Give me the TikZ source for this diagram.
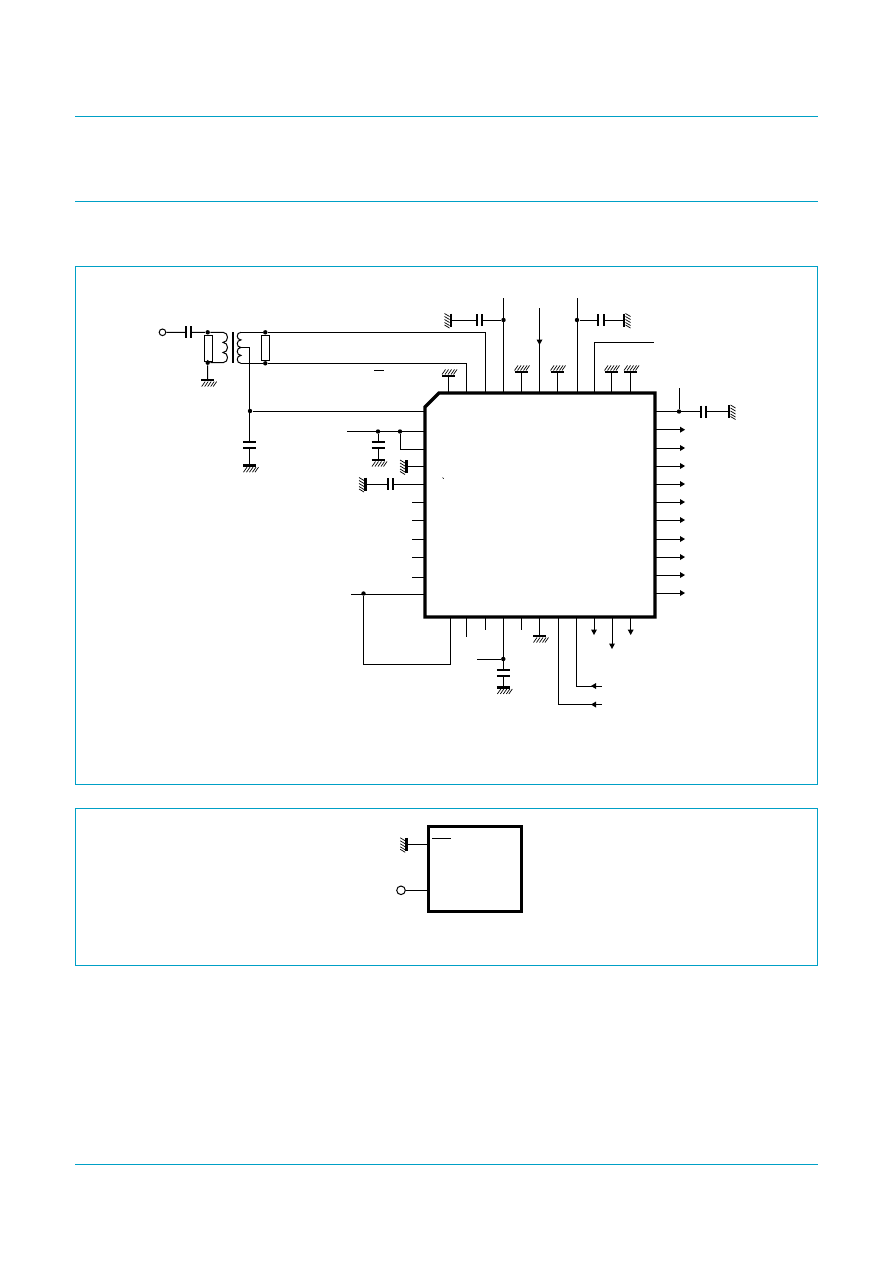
\documentclass[tikz,border=0pt]{standalone}
\definecolor{rulecyan}{RGB}{0,160,198}
\tikzset{
  wire/.style={line width=1pt,black},
  frame/.style={line width=0.9pt,rulecyan},
  chip/.style={line width=3.2pt,black,miter limit=10},
  plate/.style={line width=2.2pt,black},
  bar/.style={line width=2.8pt,black},
  hatch/.style={line width=0.7pt,black},
  jn/.style={circle,fill=black,inner sep=0pt,minimum size=4.4pt},
  res/.style={draw,line width=1pt,fill=white,minimum width=8pt,inner sep=0pt,outer sep=0pt},
  term/.style={draw,line width=1pt,circle,inner sep=0pt,fill=white},
}
% grounds: bar centred on (x,y); hatch on the side named
\newcommand{\gndS}[2]{\draw[bar] (#1-6.5,#2)--(#1+6.5,#2);
  \foreach \k in {-6,-3,0,3,5.5}{\draw[hatch] (#1+\k,#2+6.5)--(#1+\k+3.5,#2+1.5);}}
\newcommand{\gndN}[2]{\draw[bar] (#1-6.5,#2)--(#1+6.5,#2);
  \foreach \k in {-6.5,-3.5,-0.5,2.5,5}{\draw[hatch] (#1+\k,#2-1.5)--(#1+\k+3.5,#2-6.5);}}
\newcommand{\gndW}[2]{\draw[bar] (#1,#2-6.5)--(#1,#2+6.5);
  \foreach \k in {-6.5,-3.5,-0.5,2.5,5}{\draw[hatch] (#1-6.5,#2+\k)--(#1-1.5,#2+\k+3);}}
\newcommand{\gndE}[2]{\draw[bar] (#1,#2-6.5)--(#1,#2+6.5);
  \foreach \k in {-6.5,-3.5,-0.5,2.5,5}{\draw[hatch] (#1+1.5,#2+\k)--(#1+6.5,#2+\k+3);}}
% capacitors: gap centred on (x,y)
\newcommand{\capH}[2]{\fill[white] (#1-2.2,#2-1)rectangle(#1+2.2,#2+1);
  \draw[plate] (#1-2.8,#2-6)--(#1-2.8,#2+6) (#1+2.8,#2-6)--(#1+2.8,#2+6);}
\newcommand{\capV}[2]{\fill[white] (#1-1,#2-2.2)rectangle(#1+1,#2+2.2);
  \draw[plate] (#1-6.5,#2-2.8)--(#1+6.5,#2-2.8) (#1-6.5,#2+2.8)--(#1+6.5,#2+2.8);}
% arrowheads: tip at (x,y)
\newcommand{\tipR}[2]{\fill (#1,#2)--(#1-5,#2-3)--(#1-5,#2+3)--cycle;}
\newcommand{\tipL}[2]{\fill (#1,#2)--(#1+5,#2-3)--(#1+5,#2+3)--cycle;}
\newcommand{\tipD}[2]{\fill (#1,#2)--(#1-3,#2-5.5)--(#1+3,#2-5.5)--cycle;}
\begin{document}
\begin{tikzpicture}[x=1pt,y=-1pt,wire]
\useasboundingbox (0,0) rectangle (892,1263);
\fill[white] (0,0) rectangle (892,1263);
% page rules and frames
\draw[frame] (75,116.5)--(818,116.5) (75,201.5)--(818,201.5) (75,1164)--(818,1164);
\draw[frame] (75.5,266.5) rectangle (817.5,784);
\draw[frame] (75.5,808) rectangle (817.5,965);

% ----- input network
\node[term,minimum size=6.6pt] (rf) at (162.5,332.3) {};
\node[res,minimum height=26pt] (r1) at (208,348) {};
\node[res,minimum height=25pt] (r2) at (265.2,348.3) {};
\node[jn] (j1) at (207.7,332.3) {};
\node[jn] (j2) at (207.7,362.7) {};
\node[jn] (j3) at (265.3,332.3) {};
\node[jn] (j4) at (265.3,363.3) {};
\node[jn] (j5) at (250,411) {};
\coordinate (g1) at (207.7,380);
\coordinate (prit) at (223,332.3);
\coordinate (prib) at (223,362.7);
\coordinate (sect) at (241,332.3);
\coordinate (secb) at (241,363.3);
\coordinate (tap) at (241,347.5);
\coordinate (c3) at (249.5,465.7);
\draw (rf)--(j1)--(prit) (prib)--(j2)--(r1) (r1)--(j1) (j2)--(g1);
\capH{188.5}{332.3}
\gndS{207.7}{380}
% primary winding
\draw (prit) .. controls (229,332.3) and (229,342.4) .. (223,342.4)
  .. controls (229,342.4) and (229,352.5) .. (223,352.5)
  .. controls (229,352.5) and (229,362.7) .. (prib);
% core
\draw[plate] (232.7,332)--(232.7,363);
% secondary winding
\draw (sect) .. controls (236,332.3) and (236,339.9) .. (241,339.9)
  .. controls (236,339.9) and (236,347.5) .. (tap)
  .. controls (236,347.5) and (236,355.4) .. (241,355.4)
  .. controls (236,355.4) and (236,363.3) .. (secb);
\draw (tap)-|(c3);
\capV{249.5}{445}
\gndS{249.5}{465.7}
\draw (j3)--(r2)--(j4);
\draw (374,370.3)--(384,370.3);

% ----- IC body
\coordinate (icA) at (425,407);
\coordinate (icB) at (439,393);
\coordinate (icC) at (655,393);
\coordinate (icD) at (655,617);
\coordinate (icE) at (425,617);
\coordinate (pa) at (485.3,393);
\coordinate (pb) at (466.5,393);
\draw (sect)--(j3)-|(pa);
\draw (secb)--(j4)-|(pb);
\draw (j5)--(425,411);

% top pins
\foreach \x/\y in {448.5/376,521/372,557/372,611/372,630.5/372}{\draw (\x,393)--(\x,\y);\gndN{\x}{\y}}
\draw (503.5,393)--(503.5,298);
\node[jn] (j6) at (503.5,320) {};
\draw (j6)--(450,320);
\capH{479.5}{320}
\gndW{451}{320}
\draw (539.5,393)--(539.5,308);
\tipD{539.5}{345}
\draw (577,393)--(577,298);
\node[jn] (j7) at (577,320) {};
\draw (j7)--(624,320);
\capH{601}{320}
\gndE{624}{320}
\draw (594.5,393)--(594.5,342.3)--(654,342.3);

% right pins
\draw (655,411.5)--(729,411.5);
\node[jn] (j8) at (679,411.5) {};
\draw (j8)--(679,388);
\capH{703.5}{411.5}
\gndE{729}{411.5}
\foreach \y in {429.7,448,466,484,502,520,539,557,575,593}{\draw (655,\y)--(682,\y);\tipR{685}{\y}}

% left pins
\draw (347,431.5)--(425,431.5);
\node[jn] (j9) at (378,431.5) {};
\node[jn] (j10) at (400,431.5) {};
\draw (j10)|-(425,449);
\draw (j9)--(378,460);
\capV{378}{445}
\gndS{378}{460}
\draw (425,466.5)--(406.5,466.5); \gndW{406.5}{466.5}
\draw (425,484)--(365,484); \gndW{365.5}{484}
\capH{390.5}{484}
\foreach \y in {502,520,539,557,577}{\draw (425,\y)--(411.5,\y);}
\draw (351,594)--(425,594);
\node[jn] (j11) at (363.5,593.5) {};
\draw (j11)--(363.5,664)-|(450.5,617);
\draw[line width=0.5pt] (442.5,477.5)--(443.8,478.8);

% bottom pins
\draw (466.3,617)--(466.3,636.7) (485,617)--(485,630) (521,617)--(521,630);
\draw (503.3,617)--(503.3,687.5);
\node[jn] (j12) at (503.3,659) {};
\draw (j12)--(477,659);
\capV{503.3}{673}
\gndS{503.3}{687.5}
\draw (539.5,617)--(539.5,636); \gndS{539.5}{636}
\draw (558,617)--(558,704.5)--(602,704.5); \tipL{591}{704.5}
\draw (576.5,617)--(576.5,686)--(602,686); \tipL{591}{686}
\draw (594,617)--(594,632); \tipD{594}{635}
\draw (612,617)--(612,646); \tipD{612}{649}
\draw (630.7,617)--(630.7,632); \tipD{630.7}{635}

% IC outline on top
\draw[chip] (icA)--(icB)--(icC)--(icD)--(icE)--cycle;

% ----- lower frame
\node[draw,line width=3.2pt,minimum width=93pt,minimum height=85pt,inner sep=0pt,outer sep=0pt] (ic2) at (475.2,869.2) {};
\node[term,minimum size=8.6pt] (t2) at (401,890.3) {};
\coordinate (g2) at (406.7,844.3);
\draw (t2)--(t2-|ic2.west);
\draw (g2)--(g2-|ic2.west);
\gndW{406.7}{844.3}
\draw (432,838.3)--(451,838.3);
\end{tikzpicture}
\end{document}
